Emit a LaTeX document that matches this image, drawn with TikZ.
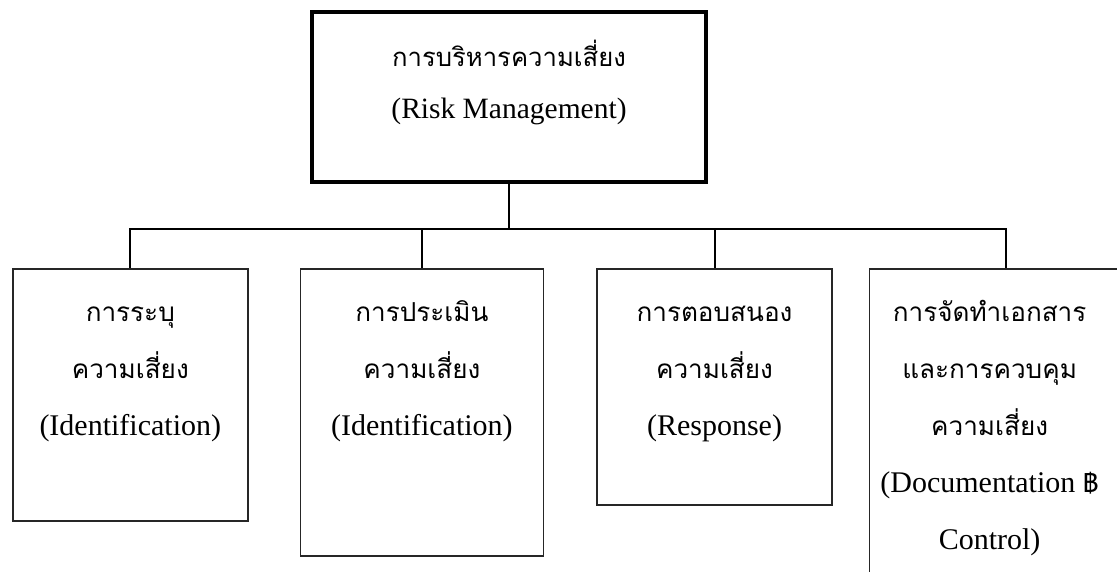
\documentclass[tikz,border=0pt]{standalone}
\usepackage{fontspec}
\setmainfont{Liberation Serif}
\newfontfamily\thaifont[Script=Thai,Scale=0.87]{Loma}
\newcommand{\thaitxt}[1]{{\thaifont #1}}
\usetikzlibrary{positioning}
\tikzset{
 headbox/.style={
 rectangle,
 draw=black,
 line width=4.5pt,
 minimum width=394pt,
 minimum height=170pt
 },
 subbox/.style={
 rectangle,
 draw=black!85,
 line width=1.6pt,
 minimum width=235pt
 },
 boxtext/.style={
 align=center,
 inner sep=0pt,
 font=\fontsize{30}{57}\selectfont
 },
 linkline/.style={line width=2pt, draw=black}
}

\begin{document}
\begin{tikzpicture}[x=1pt, y=-1pt, node distance=13pt and 51pt]
 \useasboundingbox (0,0) rectangle (1117,572);
 \clip (0,0) rectangle (1117,572);
 \node[headbox] (head) at (509,97) {};
 \node[boxtext, below=20pt of head.north, font=\fontsize{29.5}{52}\selectfont] (headtext)
 {\strut\thaitxt{การบริหารความเสี่ยง}\\(Risk Management)};
 \node[subbox, minimum height=252pt, anchor=north west] (ident) at (12,268) {};
 \node[subbox, minimum width=243pt, minimum height=287pt, right=51pt of ident.north east, anchor=north west] (assess) {};
 \node[subbox, minimum height=236pt, right=52pt of assess.north east, anchor=north west] (respond) {};
 \node[subbox, minimum width=272pt, minimum height=400pt, right=36pt of respond.north east, anchor=north west] (docu) {};
 \node[boxtext, below=of ident.north] (identtext)
 {\strut\thaitxt{การระบุ}\\\thaitxt{ความเสี่ยง}\\(Identification)};
 \node[boxtext, below=of assess.north] (assesstext)
 {\strut\thaitxt{การประเมิน}\\\thaitxt{ความเสี่ยง}\\(Identification)};
 \node[boxtext, below=of respond.north] (respondtext)
 {\strut\thaitxt{การตอบสนอง}\\\thaitxt{ความเสี่ยง}\\(Response)};
 \node[boxtext, below=of docu.north, xshift=-16pt] (docutext)
 {\strut\thaitxt{การจัดทำเอกสาร}\\\thaitxt{และการควบคุม}\\\thaitxt{ความเสี่ยง}\\(Documentation \thaitxt{฿}\\Control)};
 \draw[linkline] (head.south) -- ++(0,45) coordinate (hub);
 \draw[linkline] (ident.north) |- (hub) -| (docu.north);
 \draw[linkline] (assess.north) -- (assess.north |- hub);
 \draw[linkline] (respond.north) -- (respond.north |- hub);
\end{tikzpicture}
\end{document}
